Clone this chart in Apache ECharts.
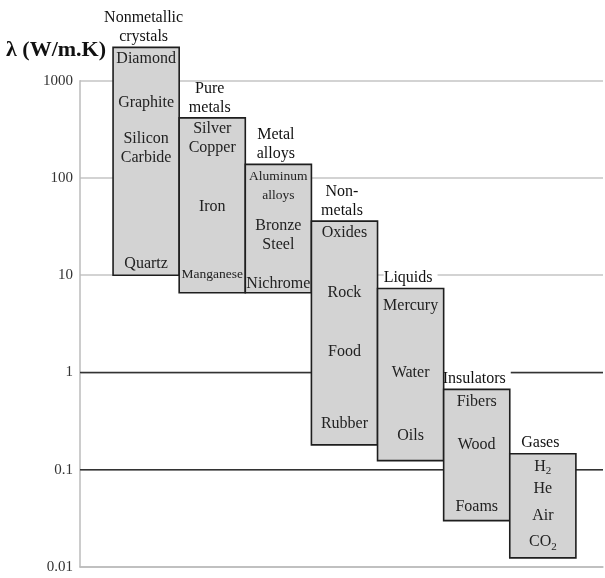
<!DOCTYPE html>
<html><head><meta charset="utf-8">
<script src="https://cdn.jsdelivr.net/npm/echarts@6/dist/echarts.min.js"></script>
<style>html,body{margin:0;padding:0;background:#fff}#c{width:605px;height:578px}</style>
</head><body><div id="c"></div>
<script>
// ---- data ----
const groups = ['Nonmetallic\ncrystals', 'Pure\nmetals', 'Metal\nalloys', 'Non-\nmetals', 'Liquids', 'Insulators', 'Gases'];
const groupLow = [10, 6.6, 6.6, 0.18, 0.124, 0.03, 0.0124];
const groupHigh = [2200, 415, 138, 36, 7.3, 0.67, 0.146];
const materials = ['Diamond', 'Graphite', 'Silicon\nCarbide', 'Quartz',
  'Silver\nCopper', 'Iron', 'Manganese',
  'Aluminum\nalloys', 'Bronze\nSteel', 'Nichrome',
  'Oxides', 'Rock', 'Food', 'Rubber',
  'Mercury', 'Water', 'Oils',
  'Fibers', 'Wood', 'Foams',
  'H2', 'He', 'Air', 'CO2'];
const materialGroup = [0, 0, 0, 0, 1, 1, 1, 2, 2, 2, 3, 3, 3, 3, 4, 4, 4, 5, 5, 5, 6, 6, 6, 6];
const materialValue = [1670, 586, 200, 13,
  255, 51, 10.1,
  82, 25.9, 8.2,
  27.5, 6.6, 1.64, 0.3,
  4.9, 1.0, 0.225,
  0.5, 0.18, 0.042,
  0.107, 0.064, 0.034, 0.018];
const smallMaterials = ['Manganese', 'Aluminum\nalloys'];
const yTicks = [0.01, 0.1, 1, 10, 100, 1000];
const darkLines = [0.1, 1];
const yAxisTitle = 'λ (W/m.K)';

// ---- chart ----
const SERIF = '"Liberation Serif", "DejaVu Serif", serif';
const X_MAX = 7.91;
const chart = echarts.init(document.getElementById('c'));

function richName(name) {
  const m = name.match(/^(\D+)(\d)$/);
  return m ? '{n|' + m[1] + '}{s|' + m[2] + '}' : name;
}

chart.setOption({
  animation: false,
  backgroundColor: '#fff',
  grid: { left: 80, right: 2, top: 80.7, bottom: 11 },
  graphic: [{
    type: 'text', left: 6, top: 39,
    style: { text: yAxisTitle, font: 'bold 22px ' + SERIF, fill: '#111' }
  }],
  xAxis: {
    type: 'value', min: 0, max: X_MAX,
    axisLine: { show: true, onZero: false, lineStyle: { color: '#bbb', width: 1.5 } },
    axisTick: { show: false }, axisLabel: { show: false }, splitLine: { show: false }
  },
  yAxis: {
    type: 'log', logBase: 10, min: yTicks[0], max: yTicks[yTicks.length - 1],
    axisLine: { show: true, lineStyle: { color: '#bbb', width: 1.5 } },
    axisTick: { show: false },
    axisLabel: {
      margin: 7, color: '#333', fontFamily: SERIF, fontSize: 15,
      formatter: v => String(v)
    },
    splitLine: { show: true, lineStyle: { color: '#c4c4c4', width: 1.5 } }
  },
  series: [
    {
      type: 'custom', z: 1, silent: true,
      data: darkLines.map(v => [v]),
      encode: { y: 0 },
      renderItem(params, api) {
        const a = api.coord([0, api.value(0)]);
        const b = api.coord([X_MAX, api.value(0)]);
        return { type: 'line', shape: { x1: a[0], y1: a[1], x2: b[0], y2: b[1] },
          style: { stroke: '#333', lineWidth: 1.5 } };
      }
    },
    {
      type: 'custom', z: 2, silent: true, clip: false,
      data: groups.map((g, i) => [i + 1, groupHigh[i]]),
      encode: { x: 0, y: 1 },
      renderItem(params, api) {
        const p = api.coord([api.value(0), api.value(1)]);
        const name = groups[params.dataIndex];
        const single = name.indexOf('\n') < 0;
        return { type: 'text', x: p[0], y: p[1] - 1,
          style: { text: name, textAlign: 'center', textVerticalAlign: 'bottom',
            font: '16px ' + SERIF, fill: '#111', lineHeight: 19,
            backgroundColor: single ? '#fff' : null, padding: [0, 5, 0, 0] } };
      }
    },
    {
      type: 'custom', z: 3, silent: true, clip: false,
      data: groups.map((g, i) => [i + 0.5, i + 1.5, groupLow[i], groupHigh[i]]),
      encode: { x: [0, 1], y: [2, 3] },
      renderItem(params, api) {
        const p0 = api.coord([api.value(0), api.value(3)]);
        const p1 = api.coord([api.value(1), api.value(2)]);
        return { type: 'rect',
          shape: { x: p0[0], y: p0[1], width: p1[0] - p0[0], height: p1[1] - p0[1] },
          style: { fill: '#d3d3d3', stroke: '#1e1e1e', lineWidth: 1.6 } };
      }
    },
    {
      type: 'custom', z: 4, silent: true, clip: false,
      data: materials.map((m, i) => [materialGroup[i] + 1, materialValue[i]]),
      encode: { x: 0, y: 1 },
      renderItem(params, api) {
        const p = api.coord([api.value(0), api.value(1)]);
        const name = materials[params.dataIndex];
        const small = smallMaterials.indexOf(name) >= 0;
        const fs = small ? 13.5 : 16;
        return { type: 'text', x: p[0], y: p[1],
          style: { text: richName(name), textAlign: 'center', textVerticalAlign: 'middle',
            font: fs + 'px ' + SERIF, fill: '#222', lineHeight: 19,
            rich: {
              n: { fontFamily: SERIF, fontSize: 16, lineHeight: 20, fill: '#222' },
              s: { fontFamily: SERIF, fontSize: 11, lineHeight: 11, verticalAlign: 'bottom', fill: '#222' }
            } } };
      }
    }
  ]
});
</script></body></html>
